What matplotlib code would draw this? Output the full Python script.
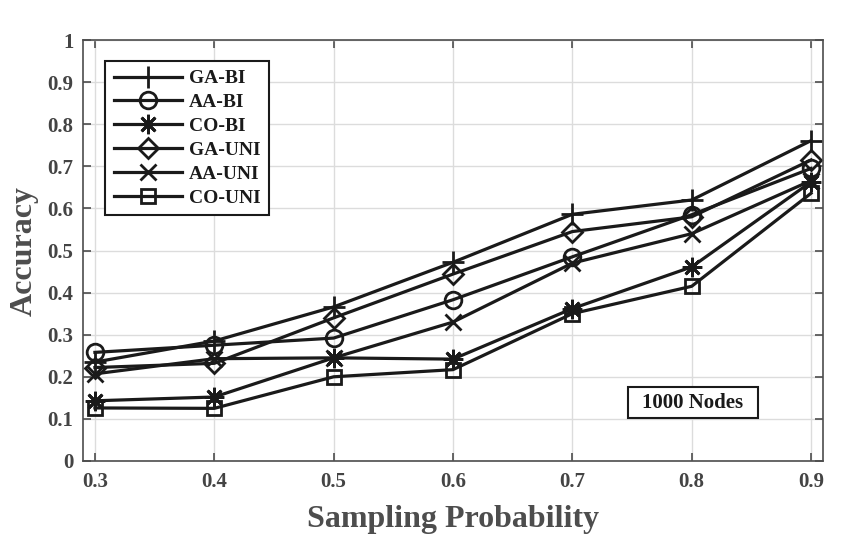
import matplotlib
matplotlib.use("Agg")
import matplotlib.pyplot as plt
from matplotlib.patches import Rectangle

x = [0.3, 0.4, 0.5, 0.6, 0.7, 0.8, 0.9]
GA_BI = [0.235, 0.285, 0.366, 0.472, 0.586, 0.620, 0.761]
AA_BI = [0.258, 0.275, 0.292, 0.383, 0.485, 0.585, 0.695]
CO_BI = [0.143, 0.152, 0.245, 0.242, 0.362, 0.461, 0.663]
GA_UNI = [0.222, 0.232, 0.340, 0.444, 0.545, 0.580, 0.715]
AA_UNI = [0.207, 0.243, 0.245, 0.330, 0.470, 0.540, 0.666]
CO_UNI = [0.126, 0.125, 0.200, 0.217, 0.350, 0.415, 0.636]
labels = ["GA-BI", "AA-BI", "CO-BI", "GA-UNI", "AA-UNI", "CO-UNI"]
series = [GA_BI, AA_BI, CO_BI, GA_UNI, AA_UNI, CO_UNI]
xticks = [0.3, 0.4, 0.5, 0.6, 0.7, 0.8, 0.9]
yticks = [0, 0.1, 0.2, 0.3, 0.4, 0.5, 0.6, 0.7, 0.8, 0.9, 1]

markers = ["+", "o", (8, 2, 0), "D", "x", "s"]
sizes = [16, 12, 14, 10, 12, 10]

plt.rcParams['font.family'] = ['Liberation Serif', 'DejaVu Serif']
plt.rcParams['font.weight'] = 'bold'

fig = plt.figure(figsize=(8.46, 5.46), dpi=100)
ax = fig.add_axes([0.0981, 0.1557, 0.8747, 0.771])

ink = '#1a1a1a'
for y, lab, m, ms in zip(series, labels, markers, sizes):
    ax.plot(x, y, color=ink, linewidth=2.3, marker=m, markersize=ms,
            markerfacecolor='none', markeredgecolor=ink, markeredgewidth=2.0,
            label=lab)

ax.set_xlim(0.29, 0.91)
ax.set_ylim(0, 1)
ax.set_xticks(xticks)
ax.set_yticks(yticks)
ax.set_xticklabels([f"{t:g}" for t in xticks])
ax.set_yticklabels([f"{t:g}" for t in yticks])
ax.tick_params(direction='in', top=True, right=True, length=6, width=1.2,
               labelsize=15, labelcolor='#444444', color='#4d4d4d')
ax.tick_params(axis='x', pad=8)
ax.tick_params(axis='y', pad=7)
for s in ax.spines.values():
    s.set_color('#4d4d4d')
    s.set_linewidth(1.2)
ax.grid(True, color='#dcdcdc', linewidth=1.0)
ax.set_axisbelow(True)

ax.set_xlabel("Sampling Probability", fontsize=23, fontweight='bold', color='#4d4d4d', labelpad=9)
ax.set_ylabel("Accuracy", fontsize=23, fontweight='bold', color='#4d4d4d', labelpad=6)

leg = ax.legend(loc='upper left', bbox_to_anchor=(0.03, 0.95), fontsize=14,
                frameon=True, fancybox=False, edgecolor=ink, framealpha=1,
                handlelength=3.5, handletextpad=0.35, labelspacing=0.32, borderpad=0.45,
                borderaxespad=0)
leg.get_frame().set_linewidth(1.5)
for t in leg.get_texts():
    t.set_color(ink)

ax.add_patch(Rectangle((0.7365, 0.102), 0.1755, 0.074, transform=ax.transAxes,
                       facecolor='white', edgecolor=ink, linewidth=1.5, zorder=5))
ax.text(0.824, 0.137, "1000 Nodes", transform=ax.transAxes, ha='center', va='center',
        fontsize=15, fontweight='bold', color=ink, zorder=6)

fig.savefig("out.png", dpi=100)
